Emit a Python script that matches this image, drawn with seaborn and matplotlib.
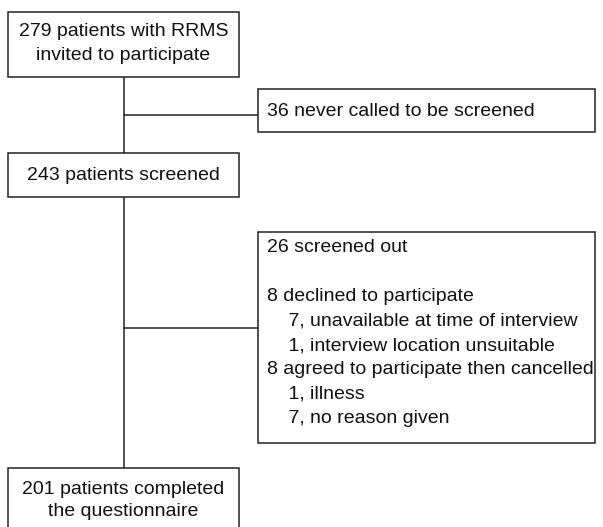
import matplotlib
matplotlib.use("Agg")
import matplotlib.pyplot as plt
from matplotlib.patches import Rectangle
import seaborn as sns


# ======================
# DATA
# ======================

invited_lines = ["279 patients with RRMS", "invited to participate"]
never_called_lines = ["36 never called to be screened"]
screened_lines = ["243 patients screened"]
screened_out_lines = [
    "26 screened out",
    "",
    "8 declined to participate",
    "    7, unavailable at time of interview",
    "    1, interview location unsuitable",
    "8 agreed to participate then cancelled",
    "    1, illness",
    "    7, no reason given",
]
completed_lines = ["201 patients completed", "the questionnaire"]


# ======================
# LAYOUT (pixel coords, y down)
# ======================

W, H = 603, 527
main_x0, main_x1 = 8, 239
side_x0, side_x1 = 258, 595
spine_x = 124

# (x0, y0, x1, y1, first line y, line step, align, lines)
boxes = [
    (main_x0, 12, main_x1, 77, 32, 23, "center", invited_lines),
    (side_x0, 89, side_x1, 132, 111, 23, "left", never_called_lines),
    (main_x0, 153, main_x1, 197, 175, 23, "center", screened_lines),
    (side_x0, 232, side_x1, 443, 248, 24.4, "left", screened_out_lines),
    (main_x0, 468, main_x1, 540, 489, 23, "center", completed_lines),
]

connectors = [
    ((spine_x, 77), (spine_x, 153)),
    ((spine_x, 115), (side_x0, 115)),
    ((spine_x, 197), (spine_x, 468)),
    ((spine_x, 328), (side_x0, 328)),
]


# ======================
# CONFIG
# ======================

sns.set_theme(style="white")
plt.rcParams["font.family"] = ["Liberation Sans", "DejaVu Sans"]

line_color = "#222222"
lw = 1.1
font_size = 14


# ======================
# DRAW
# ======================

fig = plt.figure(figsize=(W / 100, H / 100), dpi=100)
ax = fig.add_axes([0, 0, 1, 1])
ax.set_xlim(0, W)
ax.set_ylim(H, 0)
ax.axis("off")

for (p0, p1) in connectors:
    sns.lineplot(
        x=[p0[0], p1[0]],
        y=[p0[1], p1[1]],
        color=line_color,
        linewidth=lw,
        estimator=None,
        sort=False,
        ax=ax,
    )

for x0, y0, x1, y1, ty, step, align, lines in boxes:
    ax.add_patch(
        Rectangle(
            (x0, y0),
            x1 - x0,
            y1 - y0,
            facecolor="white",
            edgecolor=line_color,
            linewidth=lw,
            zorder=3,
        )
    )
    for i, txt in enumerate(lines):
        if align == "center":
            tx = (x0 + x1) / 2
        else:
            tx = x0 + 9
        ax.text(
            tx,
            ty + i * step,
            txt,
            ha=align,
            va="center",
            fontsize=font_size,
            color="#111111",
            zorder=4,
        )

fig.savefig("out.png", dpi=100)
plt.close(fig)
